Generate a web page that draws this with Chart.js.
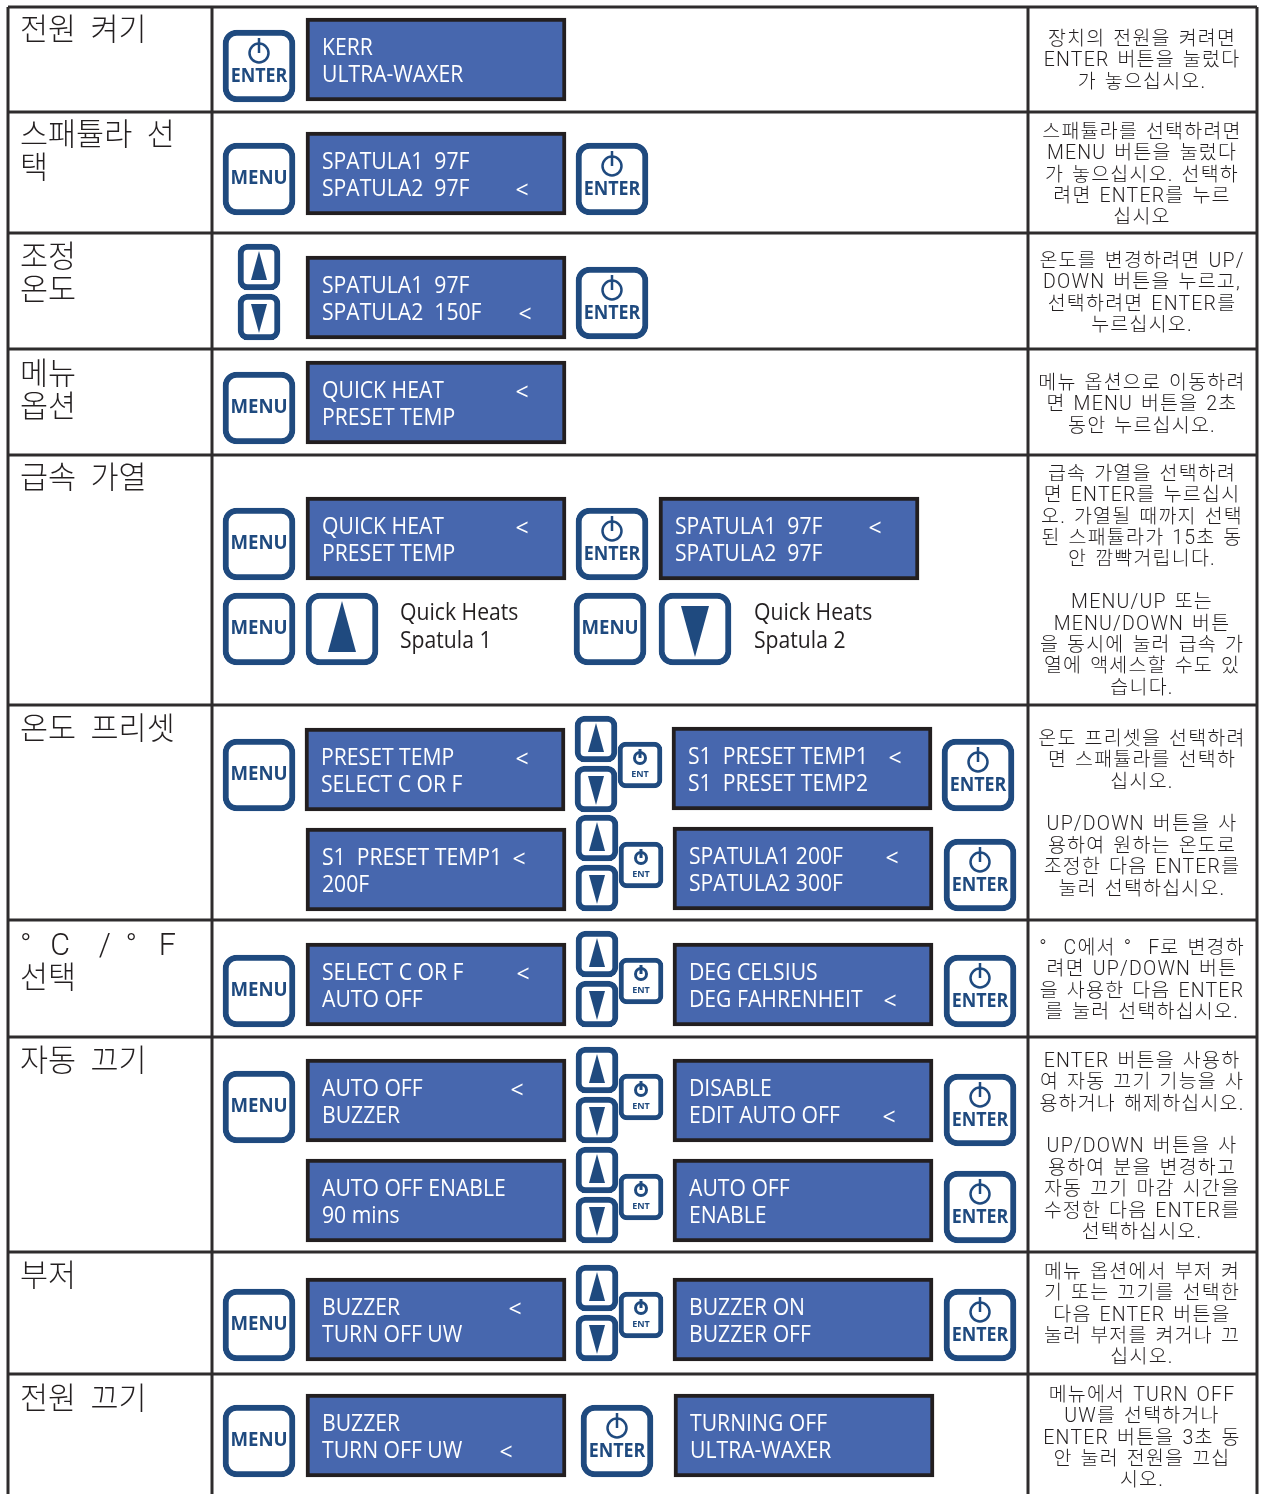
<!DOCTYPE html>
<html lang="ko">
<head>
<meta charset="utf-8">
<title>Ultra-Waxer</title>
<script src="https://cdn.jsdelivr.net/npm/chart.js@4/dist/chart.umd.min.js"></script>
<style>
    html, body { margin: 0; background: #fff; }
    canvas { display: block; }
</style>
</head>
<body>
<canvas id="panelChart" width="1262" height="1494"></canvas>
<script>
// table
const rowEdges = [7, 112, 233, 349, 455, 705, 920, 1037, 1252, 1374]
const columnEdges = [8, 212, 1028, 1257]

const rowTitles = [
    ['전원 켜기'],
    ['스패튤라 선', '택'],
    ['조정', '온도'],
    ['메뉴', '옵션'],
    ['급속 가열'],
    ['온도 프리셋'],
    ['°\u2002\u200aC  / °\u2002\u2009F', '선택'],
    ['자동 끄기'],
    ['부저'],
    ['전원 끄기']
]
const titleTops = [32, 137, 259, 376, 480, 731, 947, 1063, 1278, 1401]

const rowNotes = [
    ['장치의 전원을 켜려면', 'ENTER 버튼을 눌렀다', '가 놓으십시오.'],
    ['스패튤라를 선택하려면', 'MENU 버튼을 눌렀다', '가 놓으십시오. 선택하', '려면 ENTER를 누르', '십시오'],
    ['온도를 변경하려면 UP/', 'DOWN 버튼을 누르고,', '선택하려면 ENTER를', '누르십시오.'],
    ['메뉴 옵션으로 이동하려', '면 MENU 버튼을 2초', '동안 누르십시오.'],
    ['급속 가열을 선택하려', '면 ENTER를 누르십시', '오. 가열될 때까지 선택', '된 스패튤라가 15초 동', '안 깜빡거립니다.', '', 'MENU/UP 또는', 'MENU/DOWN 버튼', '을 동시에 눌러 급속 가', '열에 액세스할 수도 있', '습니다.'],
    ['온도 프리셋을 선택하려', '면 스패튤라를 선택하', '십시오.', '', 'UP/DOWN 버튼을 사', '용하여 원하는 온도로', '조정한 다음 ENTER를', '눌러 선택하십시오.'],
    ['°  C에서 °  F로 변경하', '려면 UP/DOWN 버튼', '을 사용한 다음 ENTER', '를 눌러 선택하십시오.'],
    ['ENTER 버튼을 사용하', '여 자동 끄기 기능을 사', '용하거나 해제하십시오.', '', 'UP/DOWN 버튼을 사', '용하여 분을 변경하고', '자동 끄기 마감 시간을', '수정한 다음 ENTER를', '선택하십시오.'],
    ['메뉴 옵션에서 부저 켜', '기 또는 끄기를 선택한', '다음 ENTER 버튼을', '눌러 부저를 켜거나 끄', '십시오.'],
    ['메뉴에서 TURN OFF', 'UW를 선택하거나', 'ENTER 버튼을 3초 동', '안 눌러 전원을 끄십', '시오.']
]
const noteTops = [40, 133, 262, 384, 475, 740, 949, 1062, 1273, 1396]

// displays
const displayTexts = [
    ['KERR', 'ULTRA-WAXER'],
    ['SPATULA1  97F', 'SPATULA2  97F'],
    ['SPATULA1  97F', 'SPATULA2  150F'],
    ['QUICK HEAT', 'PRESET TEMP'],
    ['QUICK HEAT', 'PRESET TEMP'],
    ['SPATULA1  97F', 'SPATULA2  97F'],
    ['PRESET TEMP', 'SELECT C OR F'],
    ['S1  PRESET TEMP1', 'S1  PRESET TEMP2'],
    ['S1  PRESET TEMP1', '200F'],
    ['SPATULA1 200F', 'SPATULA2 300F'],
    ['SELECT C OR F', 'AUTO OFF'],
    ['DEG CELSIUS', 'DEG FAHRENHEIT'],
    ['AUTO OFF', 'BUZZER'],
    ['DISABLE', 'EDIT AUTO OFF'],
    ['AUTO OFF ENABLE', '90 mins'],
    ['AUTO OFF', 'ENABLE'],
    ['BUZZER', 'TURN OFF UW'],
    ['BUZZER ON', 'BUZZER OFF'],
    ['BUZZER', 'TURN OFF UW'],
    ['TURNING OFF', 'ULTRA-WAXER']
]
const displayLeft = [306, 306, 306, 306, 306, 659, 305, 672, 306, 673, 306, 673, 306, 673, 306, 673, 306, 673, 306, 674]
const displayTop = [18, 132, 256, 361, 497, 497, 728, 727, 828, 827, 943, 943, 1059, 1059, 1159, 1159, 1278, 1278, 1394, 1394]
const caretX = [null, 522, 525, 522, 522, 875, 522, 895, 519, 892, 523, 890, 517, 889, null, null, 515, null, 506, null]
const caretLine = [0, 1, 1, 0, 0, 0, 0, 0, 0, 0, 0, 1, 0, 1, 0, 0, 0, 0, 1, 0]

// buttons
const enterX = [259, 612, 612, 612, 978, 980, 980, 980, 980, 980, 617]
const enterY = [66, 179, 303, 544, 775, 875, 991, 1110, 1207, 1325, 1441]
const menuX = [259, 259, 259, 259, 610, 259, 259, 259, 259, 259]
const menuY = [179, 408, 544, 629, 629, 775, 991, 1107, 1325, 1441]
const bigArrowX = [342, 695]
const bigArrowY = [629, 629]
const bigArrowDir = [-1, 1]
const smallArrowX = [259, 259, 596, 596, 597, 597, 597, 597, 597, 597, 597, 597, 597, 597]
const smallArrowY = [267, 317, 739, 789, 838, 888, 954, 1004, 1070, 1120, 1170, 1220, 1288, 1338]
const smallArrowDir = [-1, 1, -1, 1, -1, 1, -1, 1, -1, 1, -1, 1, -1, 1]
const entX = [640, 641, 641, 641, 641, 641]
const entY = [765, 865, 981, 1097, 1197, 1315]

// loose captions
const captionTexts = [['Quick Heats', 'Spatula 1'], ['Quick Heats', 'Spatula 2']]
const captionX = [400, 754]

const INK = '#231f20'
const RULE = '#2e2c2d'
const BLUE = '#1f4a7f'
const LCD = '#4767ae'
const CJK = 'Roboto, "Noto Sans CJK KR"'
const HUMAN = '"Open Sans"'

function put(ctx, text, x, y, font, color, opts = {}) {
    ctx.save()
    ctx.font = font
    ctx.fillStyle = color
    ctx.textBaseline = 'middle'
    ctx.textAlign = opts.align || 'left'
    ctx.letterSpacing = opts.spacing || '0px'
    ctx.wordSpacing = opts.wordSpacing || '0px'
    ctx.translate(x, y)
    ctx.scale(opts.squeeze || 1, 1)
    ctx.fillText(text, 0, 0)
    ctx.restore()
}

function triangle(ctx, px, py, x, y, dir, halfWidth, tip, base) {
    ctx.beginPath()
    ctx.moveTo(px(x), py(y + dir * tip))
    ctx.lineTo(px(x - halfWidth), py(y - dir * base))
    ctx.lineTo(px(x + halfWidth), py(y - dir * base))
    ctx.closePath()
    ctx.fillStyle = BLUE
    ctx.fill()
}

function powerIcon(ctx, px, py, x, y, r, width, stem) {
    ctx.strokeStyle = BLUE
    ctx.lineWidth = width
    ctx.beginPath()
    ctx.arc(px(x), py(y), r, 0, Math.PI * 2)
    ctx.stroke()
    ctx.beginPath()
    ctx.moveTo(px(x), py(y - stem))
    ctx.lineTo(px(x), py(y))
    ctx.stroke()
}

const labelPlugin = {
    id: 'labels',
    afterDatasetsDraw(chart) {
        const ctx = chart.ctx
        const px = v => chart.scales.x.getPixelForValue(v)
        const py = v => chart.scales.y.getPixelForValue(v)

        rowTitles.forEach((lines, i) => {
            lines.forEach((line, j) => {
                put(ctx, line, px(20), py(titleTops[i] + j * 33), '300 30.5px ' + CJK, INK, {wordSpacing: '7px'})
            })
        })

        rowNotes.forEach((lines, i) => {
            lines.forEach((line, j) => {
                put(ctx, line, px(1142), py(noteTops[i] + j * 21.4), '300 19.5px ' + CJK, INK, {align: 'center', spacing: '1.2px', wordSpacing: '2px'})
            })
        })

        displayTexts.forEach((lines, i) => {
            lines.forEach((line, j) => {
                put(ctx, line, px(displayLeft[i] + 16), py(displayTop[i] + 30 + j * 27.5), '23px ' + HUMAN, '#fff', {squeeze: 0.92})
            })
            if (caretX[i] !== null) {
                put(ctx, '<', px(caretX[i]), py(displayTop[i] + 32 + caretLine[i] * 27.5), '23px ' + HUMAN, '#fff', {align: 'center'})
            }
        })

        captionTexts.forEach((lines, i) => {
            lines.forEach((line, j) => {
                put(ctx, line, px(captionX[i]), py(613 + j * 28), '23px ' + HUMAN, INK, {squeeze: 0.92})
            })
        })

        enterX.forEach((x, i) => {
            powerIcon(ctx, px, py, x, enterY[i] - 13, 9.5, 2.5, 15)
            put(ctx, 'ENTER', px(x), py(enterY[i] + 11), 'bold 19px ' + HUMAN, BLUE, {align: 'center', squeeze: 0.94})
        })
        menuX.forEach((x, i) => {
            put(ctx, 'MENU', px(x), py(menuY[i]), 'bold 19px ' + HUMAN, BLUE, {align: 'center', squeeze: 0.98})
        })
        entX.forEach((x, i) => {
            powerIcon(ctx, px, py, x, entY[i] - 7, 5.5, 3, 9)
            put(ctx, 'ENT', px(x), py(entY[i] + 9), 'bold 9px ' + HUMAN, BLUE, {align: 'center'})
        })

        smallArrowX.forEach((x, i) => triangle(ctx, px, py, x, smallArrowY[i], smallArrowDir[i], 8, 16, 13))
        bigArrowX.forEach((x, i) => triangle(ctx, px, py, x, bigArrowY[i], bigArrowDir[i], 14, 28, 23))
    }
}

function tableLines() {
    const rows = rowEdges.map(y => ({
        type: 'scatter',
        showLine: true,
        data: [{x: columnEdges[0], y: y}, {x: columnEdges[3], y: y}]
    }))
    const cols = columnEdges.map(x => ({
        type: 'scatter',
        showLine: true,
        data: [{x: x, y: rowEdges[0]}, {x: x, y: 1494}]
    }))
    return rows.concat(cols).map(d => ({...d, borderColor: RULE, borderWidth: 3, pointRadius: 0, order: 5}))
}

function boxes(xs, ys, halfHeight) {
    return xs.map((x, i) => ({x: x, y: [ys[i] - halfHeight, ys[i] + halfHeight]}))
}

new Chart(document.getElementById('panelChart'), {
    type: 'bar',
    data: {
        datasets: [
            ...tableLines(),
            {
                data: displayLeft.map((x, i) => ({x: x + 130, y: [displayTop[i], displayTop[i] + 83]})),
                barThickness: 260,
                backgroundColor: LCD,
                borderColor: INK,
                borderWidth: 4,
                borderSkipped: false,
                order: 1
            },
            {
                data: boxes(enterX.concat(menuX, bigArrowX), enterY.concat(menuY, bigArrowY), 36),
                barThickness: 72,
                backgroundColor: '#fff',
                borderColor: BLUE,
                borderWidth: 6,
                borderRadius: 14,
                borderSkipped: false,
                order: 1
            },
            {
                data: boxes(smallArrowX, smallArrowY, 23),
                barThickness: 42,
                backgroundColor: '#fff',
                borderColor: BLUE,
                borderWidth: 6,
                borderRadius: 10,
                borderSkipped: false,
                order: 1
            },
            {
                data: boxes(entX, entY, 23),
                barThickness: 44,
                backgroundColor: '#fff',
                borderColor: BLUE,
                borderWidth: 5,
                borderRadius: 8,
                borderSkipped: false,
                order: 1
            }
        ]
    },
    options: {
        responsive: false,
        animation: false,
        grouped: false,
        layout: {padding: 0},
        plugins: {legend: {display: false}, tooltip: {enabled: false}},
        scales: {
            x: {type: 'linear', min: 0, max: 1262, offset: false, display: false},
            y: {type: 'linear', min: 0, max: 1494, reverse: true, display: false}
        }
    },
    plugins: [labelPlugin]
})
</script>
</body>
</html>
